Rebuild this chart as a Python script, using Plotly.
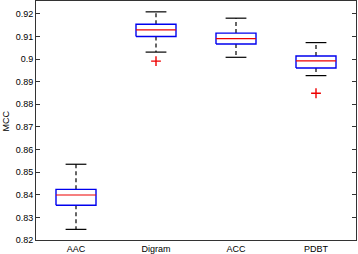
import plotly.graph_objects as go

categories = ["AAC", "Digram", "ACC", "PDBT"]
upper_whisker = [0.8535, 0.9209, 0.9181, 0.9073]
q3 = [0.8424, 0.9154, 0.9115, 0.9014]
median = [0.8399, 0.9129, 0.9091, 0.8992]
q1 = [0.8354, 0.9100, 0.9067, 0.8961]
lower_whisker = [0.8247, 0.9031, 0.9008, 0.8927]
outlier_cat = ["Digram", "PDBT"]
outlier_val = [0.8991, 0.8849]
y_ticks = [0.82, 0.83, 0.84, 0.85, 0.86, 0.87, 0.88, 0.89, 0.9, 0.91, 0.92]
y_tick_labels = ["0.82", "0.83", "0.84", "0.85", "0.86", "0.87", "0.88", "0.89", "0.9", "0.91", "0.92"]

box_half = 0.25
cap_half = 0.13

fig = go.Figure()
pos = {c: i + 1 for i, c in enumerate(categories)}

for i, c in enumerate(categories):
    x = pos[c]
    fig.add_trace(go.Scatter(
        x=[x, x, None, x, x], y=[q3[i], upper_whisker[i], None, q1[i], lower_whisker[i]],
        mode="lines", line=dict(color="black", width=1.2, dash="4px,3px"), hoverinfo="skip"))
    fig.add_trace(go.Scatter(
        x=[x - cap_half, x + cap_half, None, x - cap_half, x + cap_half],
        y=[upper_whisker[i], upper_whisker[i], None, lower_whisker[i], lower_whisker[i]],
        mode="lines", line=dict(color="black", width=1.2), hoverinfo="skip"))
    fig.add_trace(go.Scatter(
        x=[x - box_half, x + box_half, x + box_half, x - box_half, x - box_half],
        y=[q1[i], q1[i], q3[i], q3[i], q1[i]],
        mode="lines", line=dict(color="#0000ee", width=1.4), hoverinfo="skip"))
    fig.add_trace(go.Scatter(
        x=[x - box_half, x + box_half], y=[median[i], median[i]],
        mode="lines", line=dict(color="#ee0000", width=1.2), hoverinfo="skip"))

fig.add_trace(go.Scatter(
    x=[pos[c] for c in outlier_cat], y=outlier_val, mode="markers",
    marker=dict(symbol="cross-thin", size=7, line=dict(color="#ee0000", width=1.4)),
    hoverinfo="skip"))

fig.update_layout(
    width=358, height=254,
    margin=dict(l=36, r=2, t=1, b=14, autoexpand=False),
    paper_bgcolor="white", plot_bgcolor="white",
    showlegend=False,
    font=dict(family="Liberation Sans, Arial, sans-serif", size=9, color="black"),
    xaxis=dict(
        range=[0.5, 4.5], tickvals=[1, 2, 3, 4], ticktext=categories,
        showgrid=False, zeroline=False, showline=True, linecolor="#333333", linewidth=1,
        mirror=True, ticks="", ticklen=0, automargin=False,
    ),
    yaxis=dict(
        range=[0.82, 0.9257], tickvals=y_ticks, ticktext=y_tick_labels,
        showgrid=False, zeroline=False, showline=True, linecolor="#333333", linewidth=1,
        mirror="ticks", ticks="inside", ticklen=4, tickcolor="#333333", automargin=False,
    ),
    annotations=[dict(text="MCC", textangle=-90, xref="paper", yref="paper",
                      x=-0.094, y=0.5, xanchor="center", yanchor="middle",
                      showarrow=False, font=dict(size=9))],
)

fig.write_html("out.html", config={"displayModeBar": False},
               post_script="document.body.style.margin='0';document.body.style.padding='0';")
